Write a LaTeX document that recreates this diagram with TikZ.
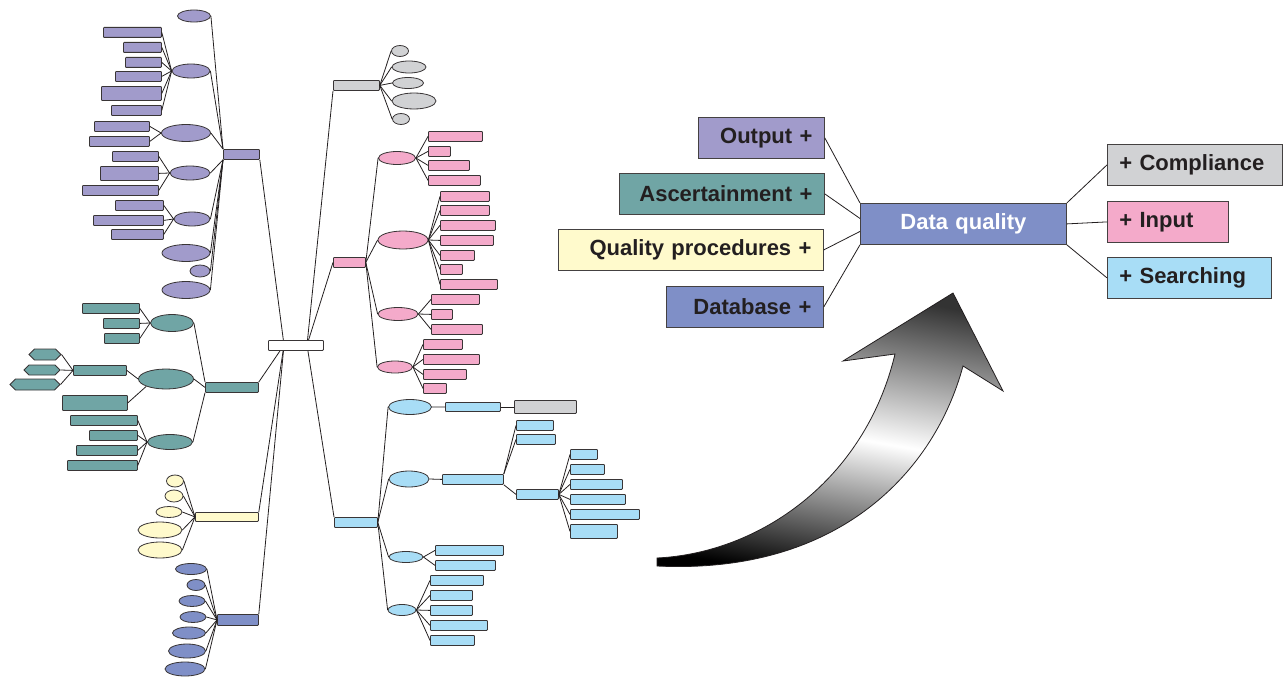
\documentclass[tikz,border=0pt]{standalone}
\usepackage{fontspec}
\setmainfont{Liberation Sans}
\usetikzlibrary{shapes.geometric,shapes.symbols,calc}

\definecolor{lav}{RGB}{161,155,203}
\definecolor{sea}{RGB}{112,165,165}
\definecolor{cream}{RGB}{255,250,204}
\definecolor{peri}{RGB}{127,143,199}
\definecolor{pale}{RGB}{209,210,212}
\definecolor{rose}{RGB}{244,170,202}
\definecolor{sky}{RGB}{168,221,246}
\definecolor{ink}{RGB}{35,31,32}

\tikzset{
  link/.style={ink, line width=.8pt},
  leaf/.style={draw=ink!90, line width=.8pt, rounded corners=.8pt, inner sep=0pt, anchor=north west},
  oval/.style={ellipse, draw=ink!90, line width=.8pt, inner sep=0pt},
  hexa/.style={signal, signal to=east and west, draw=ink!90, line width=.8pt, inner sep=0pt},
  topic/.style={draw=ink!85, line width=.8pt, inner xsep=12pt, inner ysep=0pt, anchor=north west,
    minimum height=41pt, text=ink, font=\bfseries\fontsize{22}{26}\selectfont},
}

\begin{document}
\begin{tikzpicture}[x=1pt,y=-1pt]
  \useasboundingbox (0,0) rectangle (1287,677);
  \coordinate (L) at (284,345);
  \coordinate (R) at (307,345);

  % output branch
  \node (pb) [leaf, fill=lav, minimum width=36, minimum height=10] at (223,149) {};
  \foreach \x/\y/\w/\h/\a [count=\i] in {194/16/33/12/north west, 191/71/38/14/north west,
      186/133/49/17/north west, 190/173/40/14/south west, 192/219/36/14/south west,
      186/253/48/17/south west, 200/271/20/12/south west, 186/290/48/17/south west} {
    \node (pe\i) [oval, fill=lav, minimum width=\w, minimum height=\h] at (\x,\y) {};
    \draw[link] (pe\i.east) -- (pb.\a);
  }
  \foreach \x/\y/\w/\h/\p [count=\i] in {103/27/58/10/pe2, 123/42/38/10/pe2, 125/57/36/10/pe2,
      115/71/46/10/pe2, 101/86/60/14/pe2, 111/105/50/10/pe2, 94/121/55/10/pe3, 89/136/60/10/pe3,
      112/151/46/10/pe4, 100/166/58/14/pe4, 82/185/76/10/pe4, 115/200/48/10/pe5,
      93/215/70/10/pe5, 111/229/52/10/pe5} {
    \node (pl\i) [leaf, fill=lav, minimum width=\w, minimum height=\h] at (\x,\y) {};
    \draw[link] (pl\i.east) -- (\p.west);
  }

  % ascertainment branch
  \node (tb) [leaf, fill=sea, minimum width=53, minimum height=10] at (205,382) {};
  \foreach \x/\y/\w/\h/\a [count=\i] in {172/323/43/17/north west, 166/379/55/20/west,
      170/442/45/15/south west} {
    \node (te\i) [oval, fill=sea, minimum width=\w, minimum height=\h] at (\x,\y) {};
    \draw[link] (te\i.east) -- (tb.\a);
  }
  \foreach \x/\y/\w/\h/\p [count=\i] in {82/303/57/10/te1, 103/318/36/10/te1, 104/333/35/10/te1,
      70/415/67/10/te3, 89/430/48/10/te3, 76/445/61/10/te3, 67/460/70/10/te3} {
    \node (tl\i) [leaf, fill=sea, minimum width=\w, minimum height=\h] at (\x,\y) {};
    \draw[link] (tl\i.east) -- (\p.west);
  }
  \node (tr) [leaf, fill=sea, minimum width=53, minimum height=10] at (73,365) {};
  \node (tq) [leaf, fill=sea, minimum width=65, minimum height=15] at (62,395) {};
  \draw[link] (tr.east) -- (te2.west);
  \draw[link] (tq.east) -- (te2.south west);
  \foreach \x/\y/\w/\h [count=\i] in {45/354.5/32/11, 42/370/36/10, 35/384.5/50/11} {
    \node (th\i) [hexa, fill=sea, minimum width=\w, minimum height=\h] at (\x,\y) {};
    \draw[link] (th\i.east) -- (tr.west);
  }

  % quality procedures branch
  \node (yb) [leaf, fill=cream, minimum width=63, minimum height=9] at (195,512) {};
  \foreach \x/\y/\w/\h [count=\i] in {175/481/17/12, 174/496/18/12, 169/512/26/11,
      160/530/44/16, 160/550/44/16} {
    \node (ye\i) [oval, fill=cream, minimum width=\w, minimum height=\h] at (\x,\y) {};
    \draw[link] (ye\i.east) -- (yb.west);
  }

  % database branch
  \node (bb) [leaf, fill=peri, minimum width=41, minimum height=11] at (217,614) {};
  \foreach \x/\y/\w/\h [count=\i] in {191/569/31/11, 196/585/18/11, 192/601/26/11,
      193/617/26/11, 189/633/33/12, 187/651/37/14, 185/669/40/14} {
    \node (be\i) [oval, fill=peri, minimum width=\w, minimum height=\h] at (\x,\y) {};
    \draw[link] (be\i.east) -- (bb.west);
  }

  % compliance branch
  \node (gb) [leaf, fill=pale, minimum width=46, minimum height=10] at (333,80) {};
  \foreach \x/\y/\w/\h [count=\i] in {400/51/17/11, 409/67/34/12, 408/83/31/11,
      414/101/44/16, 401/119/17/11} {
    \node (ge\i) [oval, fill=pale, minimum width=\w, minimum height=\h] at (\x,\y) {};
    \draw[link] (gb.east) -- (ge\i.west);
  }

  % input branch
  \node (kb) [leaf, fill=rose, minimum width=32, minimum height=10] at (333,257) {};
  \foreach \x/\y/\w/\h [count=\i] in {397/158/37/13, 403/240/50/18, 398/314/40/13, 395/367/35/12} {
    \node (ke\i) [oval, fill=rose, minimum width=\w, minimum height=\h] at (\x,\y) {};
    \draw[link] (kb.east) -- (ke\i.west);
  }
  \foreach \x/\y/\w/\p [count=\i] in {428/131/54/ke1, 428/146/22/ke1, 428/160/41/ke1, 428/175/52/ke1,
      440/191/49/ke2, 440/205/49/ke2, 440/220/55/ke2, 440/235/53/ke2, 440/250/34/ke2,
      440/264/22/ke2, 440/279/57/ke2, 431/294/48/ke3, 431/309/21/ke3, 431/324/51/ke3,
      423/339/39/ke4, 423/354/56/ke4, 423/369/43/ke4, 423/383/23/ke4} {
    \node (kl\i) [leaf, fill=rose, minimum width=\w, minimum height=10] at (\x,\y) {};
    \draw[link] (\p.east) -- (kl\i.west);
  }

  % searching branch
  \node (lb) [leaf, fill=sky, minimum width=43, minimum height=10] at (334,517) {};
  \foreach \x/\y/\w/\h [count=\i] in {410/407/43/15, 409/479/40/16, 406/557/34/11, 402/610/28/11} {
    \node (le\i) [oval, fill=sky, minimum width=\w, minimum height=\h] at (\x,\y) {};
    \draw[link] (lb.east) -- (le\i.west);
  }
  \node (s1) [leaf, fill=sky, minimum width=55, minimum height=9] at (445,402) {};
  \node (sg) [leaf, fill=pale, minimum width=62, minimum height=13] at (514,400) {};
  \node (s2) [leaf, fill=sky, minimum width=61, minimum height=10] at (442,474) {};
  \node (s3) [leaf, fill=sky, minimum width=42, minimum height=10] at (516,489) {};
  \draw[link] (le1.east) -- (s1.west);
  \draw[link] (s1.east) -- (sg.west);
  \draw[link] (le2.east) -- (s2.west);
  \draw[link] (s2.south east) -- (s3.west);
  \foreach \x/\y/\w/\h/\p/\a [count=\i] in {516/420/37/10/s2/north east, 516/434/39/10/s2/north east,
      570/449/27/10/s3/east, 570/464/34/10/s3/east, 570/479/52/10/s3/east, 570/494/55/10/s3/east,
      570/509/69/10/s3/east, 570/524/47/14/s3/east, 435/545/68/10/le3/east, 435/560/60/10/le3/east,
      430/575/53/10/le4/east, 430/590/42/10/le4/east, 430/605/42/10/le4/east,
      430/620/57/10/le4/east, 430/635/44/10/le4/east} {
    \node (sl\i) [leaf, fill=sky, minimum width=\w, minimum height=\h] at (\x,\y) {};
    \draw[link] (\p.\a) -- (sl\i.west);
  }

  % trunk
  \draw[link] (pb.south east) -- (L);
  \draw[link] (tb.north east) -- (L);
  \draw[link] (yb.north east) -- (L);
  \draw[link] (bb.north east) -- (L);
  \draw[link] (gb.south west) -- (R);
  \draw[link] (kb.west) -- (R);
  \draw[link] (lb.north west) -- (R);
  \node (cb) [leaf, fill=white, minimum width=55, minimum height=10] at (268,340) {};

  % rising arrow
  \shade[draw=ink, line width=.8pt, top color=black!80, bottom color=black, middle color=white,
    shading angle=-10]
    (657,558) .. controls (760,553) and (865,480) .. (895,354) -- (843,361) -- (953,293)
    -- (1003,391) -- (963,366) .. controls (935,470) and (840,575) .. (657,566) -- cycle;

  % summary map
  \node (dq) [topic, fill=peri, text=white, text width=182pt, align=center] at (860,203) {Data quality};
  \node (out) [topic, fill=lav, text width=102pt, align=right] at (698,117) {Output +};
  \node (asc) [topic, fill=sea, text width=181pt, align=right] at (619,173) {Ascertainment +};
  \node (qp) [topic, fill=cream, text width=241pt, align=right] at (558,229) {Quality procedures +};
  \node (db) [topic, fill=peri, text width=133pt, align=right] at (666,286) {Database +};
  \node (cp) [topic, fill=pale, text width=151pt, align=left] at (1107,144) {+ Compliance};
  \node (in) [topic, fill=rose, text width=97pt, align=left] at (1107,201) {+ Input};
  \node (sr) [topic, fill=sky, text width=140pt, align=left] at (1107,257) {+ Searching};
  \draw[link] (out.east) -- (dq.north west);
  \draw[link] (asc.east) -- ($(dq.north west)!.37!(dq.south west)$);
  \draw[link] (qp.east) -- ($(dq.north west)!.68!(dq.south west)$);
  \draw[link] (db.east) -- (dq.south west);
  \draw[link] (dq.north east) -- (cp.west);
  \draw[link] (dq.east) -- (in.west);
  \draw[link] (dq.south east) -- (sr.west);
\end{tikzpicture}
\end{document}
